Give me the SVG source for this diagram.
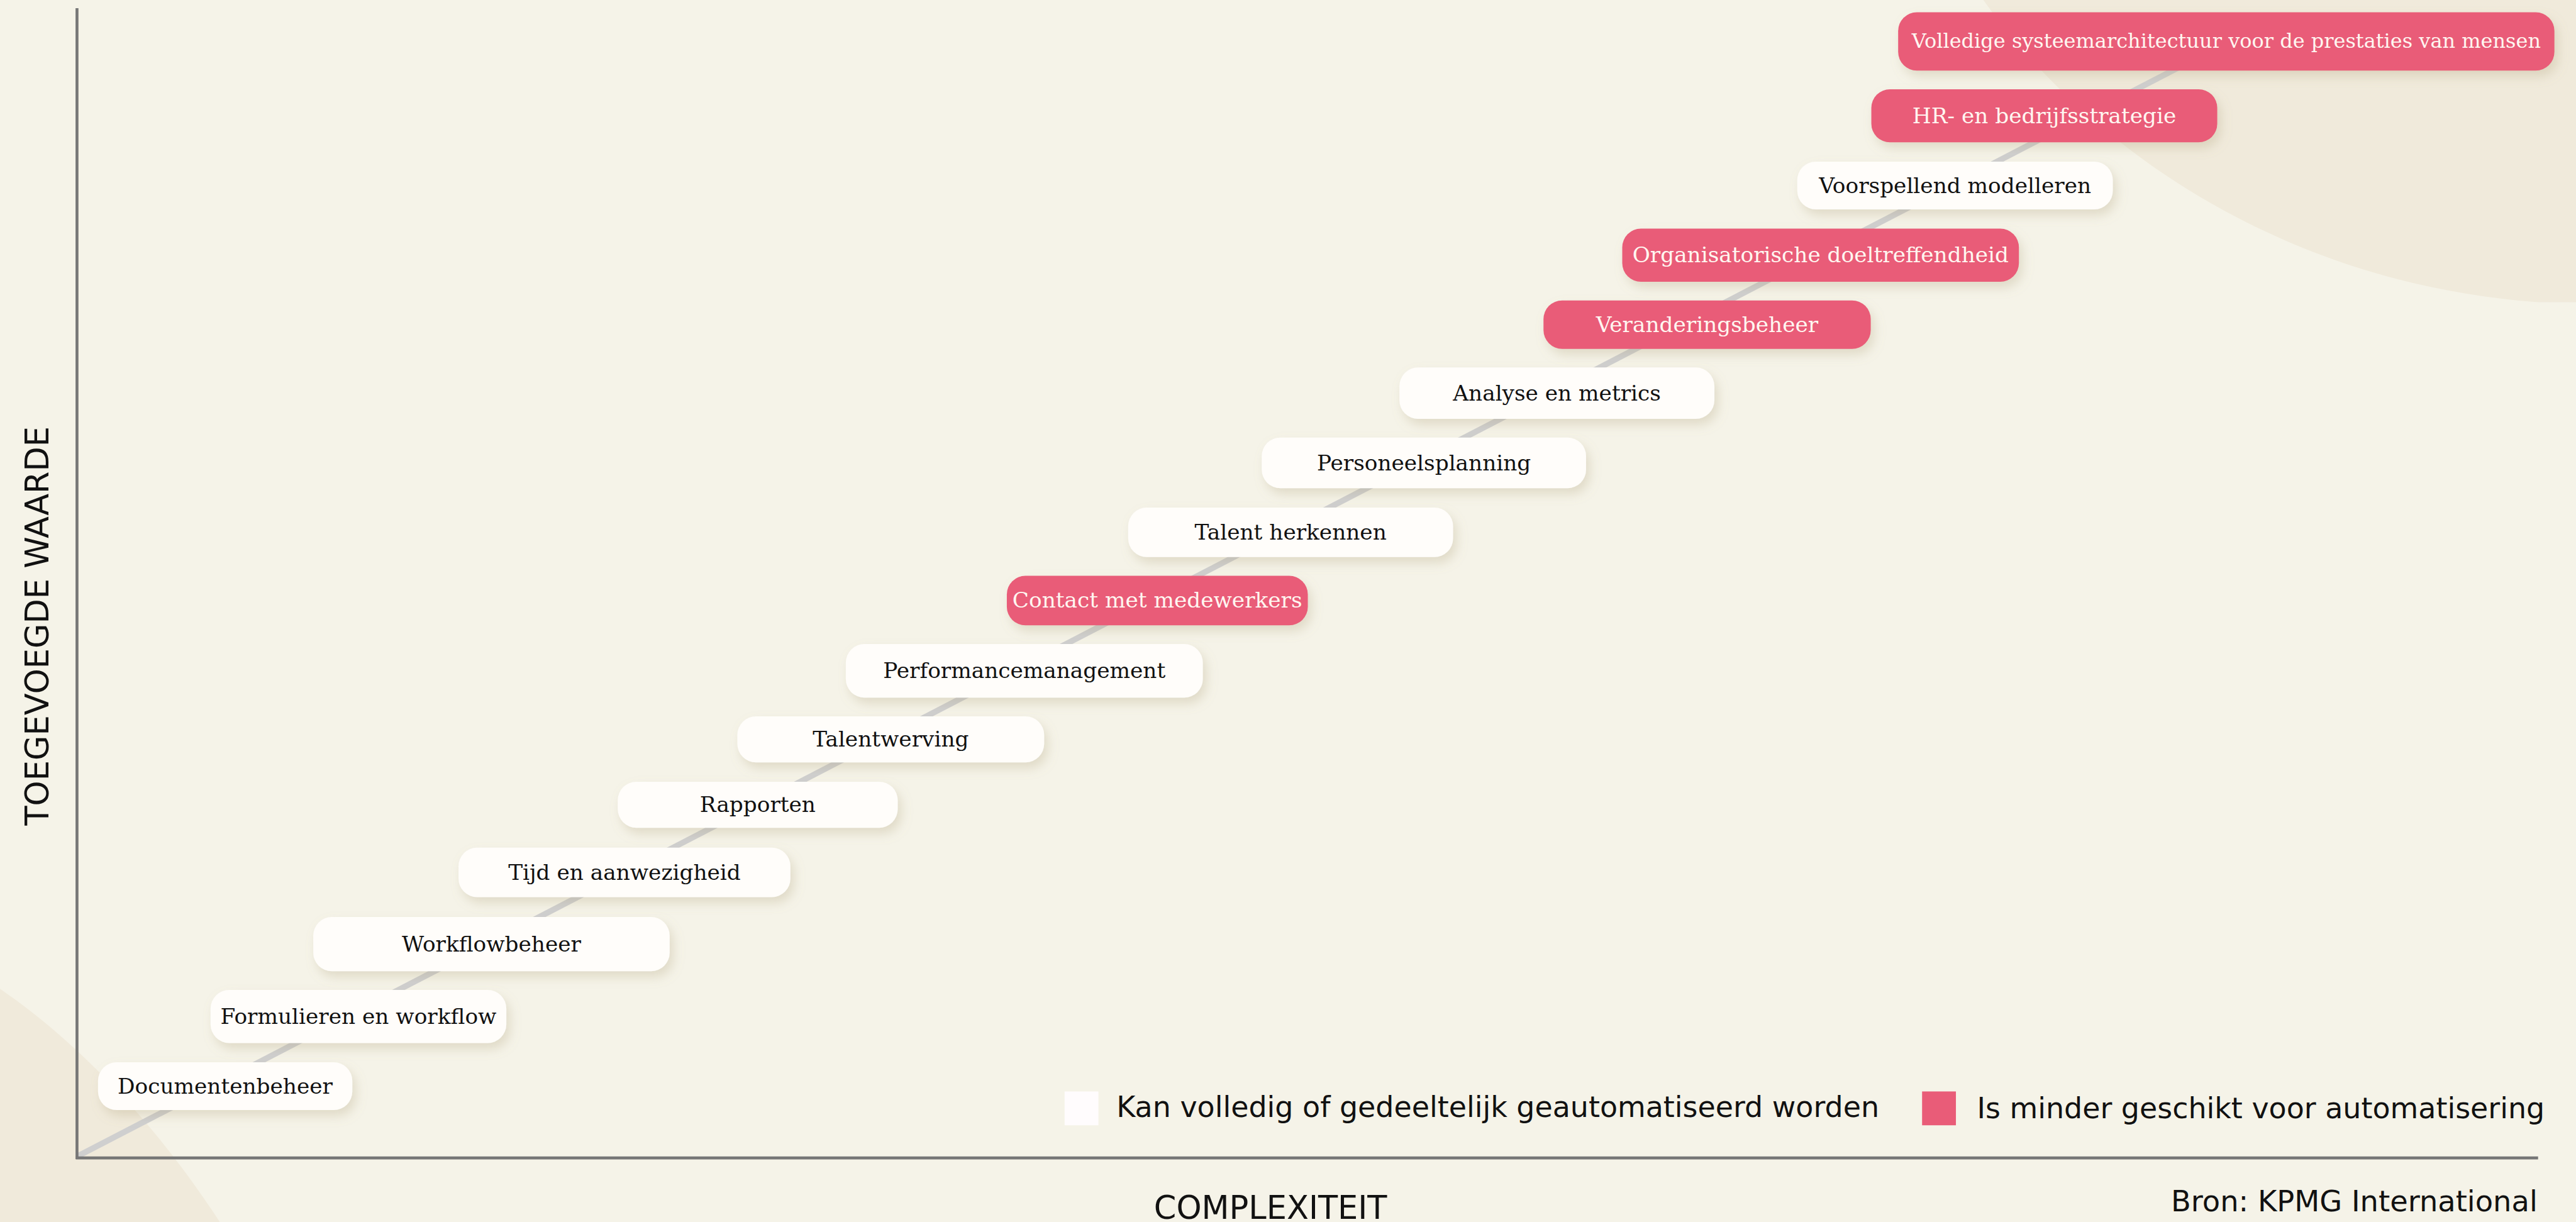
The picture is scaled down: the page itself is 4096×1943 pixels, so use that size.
<svg xmlns="http://www.w3.org/2000/svg" width="4096" height="1943" viewBox="0 0 4096 1943">
<defs>
<filter id="sh" x="-10%" y="-30%" width="125%" height="180%">
<feDropShadow dx="6" dy="10" stdDeviation="9" flood-color="#a89a72" flood-opacity="0.28"/>
</filter>
<style>
.nw rect{fill:#fffdfa;filter:url(#sh)}
.nr rect{fill:#e95c78;filter:url(#sh)}
.nw text{fill:#111;font-family:"DejaVu Serif",serif;font-size:37px;text-anchor:middle}
.nr text{fill:#fff6f0;font-family:"DejaVu Serif",serif;font-size:37px;text-anchor:middle}
.sans{font-family:"DejaVu Sans",sans-serif;fill:#111}
.axis{stroke:#767676;stroke-width:5;fill:none}
</style>
</defs>
<g transform="scale(0.927536)">
<rect x="0" y="0" width="4416" height="2095" fill="#f5f3e8"/>
<path d="M3400,0 C3570,240 3900,485 4350,518 L4416,518 L4416,0 Z" fill="#f0eadb"/>
<path d="M0,1695 C110,1770 250,1900 377,2095 L0,2095 Z" fill="#f0eadb"/>

<g id="connectors">
<line x1="133" y1="1982" x2="3823" y2="70" stroke="#cfcfcf" stroke-width="10"/>
</g>

<g id="axes">
<line class="axis" x1="132" y1="14" x2="132" y2="1987"/>
<line class="axis" x1="130" y1="1985" x2="4351" y2="1985"/>
<text class="sans" transform="translate(83,1073) rotate(-90)" font-size="55" text-anchor="middle">TOEGEVOEGDE WAARDE</text>
<text class="sans" x="2178" y="2089" font-size="55" text-anchor="middle">COMPLEXITEIT</text>
<text class="sans" x="4350" y="2077" font-size="50" text-anchor="end">Bron: KPMG International</text>
</g>

<g id="legend">
<rect x="1825" y="1871" width="58" height="58" fill="#fffcfd"/>
<text class="sans" x="1914" y="1915" font-size="49.5">Kan volledig of gedeeltelijk geautomatiseerd worden</text>
<rect x="3295" y="1871" width="58" height="58" fill="#e95c78"/>
<text class="sans" x="3389" y="1917" font-size="49.5">Is minder geschikt voor automatisering</text>
</g>

<g id="n1" class="nr"><rect x="3254" y="21" width="1125" height="100" rx="32"/><text x="3816.5" y="82" style="font-size:34.5px">Volledige systeemarchitectuur voor de prestaties van mensen</text></g>
<g id="n2" class="nr"><rect x="3208" y="153" width="593" height="91" rx="32"/><text x="3504.5" y="211">HR- en bedrijfsstrategie</text></g>
<g id="n3" class="nw"><rect x="3081" y="277" width="541" height="82" rx="32"/><text x="3351.5" y="330.5">Voorspellend modelleren</text></g>
<g id="n4" class="nr"><rect x="2781" y="392" width="680" height="91" rx="32"/><text x="3121" y="450">Organisatorische doeltreffendheid</text></g>
<g id="n5" class="nr"><rect x="2646" y="515" width="561" height="83" rx="32"/><text x="2926.5" y="569">Veranderingsbeheer</text></g>
<g id="n6" class="nw"><rect x="2399" y="630" width="540" height="88" rx="32"/><text x="2669" y="686.5">Analyse en metrics</text></g>
<g id="n7" class="nw"><rect x="2163" y="750" width="556" height="87" rx="32"/><text x="2441" y="806">Personeelsplanning</text></g>
<g id="n8" class="nw"><rect x="1934" y="870" width="557" height="85" rx="32"/><text x="2212.5" y="925">Talent herkennen</text></g>
<g id="n9" class="nr"><rect x="1726" y="987" width="516" height="85" rx="32"/><text x="1984" y="1042">Contact met medewerkers</text></g>
<g id="n10" class="nw"><rect x="1450" y="1104" width="612" height="92" rx="32"/><text x="1756" y="1162.5">Performancemanagement</text></g>
<g id="n11" class="nw"><rect x="1264" y="1228" width="526" height="79" rx="32"/><text x="1527" y="1280">Talentwerving</text></g>
<g id="n12" class="nw"><rect x="1059" y="1340" width="480" height="79" rx="32"/><text x="1299" y="1392">Rapporten</text></g>
<g id="n13" class="nw"><rect x="786" y="1453" width="569" height="85" rx="32"/><text x="1070.5" y="1508">Tijd en aanwezigheid</text></g>
<g id="n14" class="nw"><rect x="537" y="1572" width="611" height="93" rx="32"/><text x="842.5" y="1631">Workflowbeheer</text></g>
<g id="n15" class="nw"><rect x="361" y="1697" width="507" height="91" rx="32"/><text x="614.5" y="1755">Formulieren en workflow</text></g>
<g id="n16" class="nw"><rect x="168" y="1821" width="436" height="82" rx="32"/><text x="386" y="1874.5">Documentenbeheer</text></g>
</g>
</svg>
